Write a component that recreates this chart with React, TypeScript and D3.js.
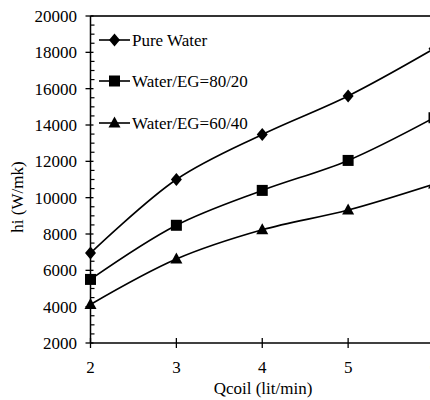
import React from "react";
import * as d3 from "d3";

const flows = [2, 3, 4, 5, 6];
const pureWater = [6950, 11000, 13480, 15600, 18200];
const eg8020 = [5500, 8480, 10400, 12050, 14400];
const eg6040 = [4120, 6620, 8230, 9320, 10750];
const yTicks = [2000, 4000, 6000, 8000, 10000, 12000, 14000, 16000, 18000, 20000];
const seriesNames = ["Pure Water", "Water/EG=80/20", "Water/EG=60/40"];
const markerKinds = ["diamond", "square", "triangle"];

const W = 430;
const H = 400;
const ts = { fontFamily: "Liberation Serif", fontSize: "17px" } as React.CSSProperties;

function Marker({ kind, x, y }: { kind: string; x: number; y: number }) {
  if (kind === "diamond") {
    return <path d={`M${x},${y - 6.5}L${x + 5.5},${y}L${x},${y + 6.5}L${x - 5.5},${y}Z`} fill="#000" />;
  }
  if (kind === "square") {
    return <rect x={x - 5.5} y={y - 5.5} width={11} height={11} fill="#000" />;
  }
  return <path d={`M${x},${y - 6.5}L${x + 6},${y + 4.5}L${x - 6},${y + 4.5}Z`} fill="#000" />;
}

export default function App() {
  const x = d3.scaleLinear().domain([2, 6]).range([90.5, 434]);
  const y = d3.scaleLinear().domain([2000, 20000]).range([343, 16]);
  const line = d3
    .line<number>()
    .x((_, i) => x(flows[i]))
    .y((d) => y(d))
    .curve(d3.curveCatmullRom.alpha(0.5));
  const allSeries = [pureWater, eg8020, eg6040];
  const minor = d3.range(2000, 20001, 500).filter((v) => v % 2000 !== 0);
  const legendY = [40, 81, 123];

  return (
    <svg
      width={W}
      height={H}
      style={{ position: "absolute", left: 0, top: 0, background: "#fff" }}
    >
      <rect width={W} height={H} fill="#fff" />
      <line x1={x(2)} x2={W} y1={y(20000)} y2={y(20000)} stroke="#333" strokeWidth={2} />
      <line x1={x(2)} x2={x(2)} y1={y(20000)} y2={y(2000)} stroke="#000" strokeWidth={1.5} />
      {yTicks.map((t) => (
        <g key={t}>
          <line x1={x(2) - 5} x2={x(2) + 3} y1={y(t)} y2={y(t)} stroke="#000" strokeWidth={1.3} />
          <text x={77} y={y(t)} dy="0.35em" textAnchor="end" style={ts}>
            {t}
          </text>
        </g>
      ))}
      {minor.map((t) => (
        <line key={t} x1={x(2)} x2={x(2) + 4} y1={y(t)} y2={y(t)} stroke="#000" strokeWidth={1.2} />
      ))}
      <line x1={x(2)} x2={W} y1={y(2000)} y2={y(2000)} stroke="#000" strokeWidth={1.5} />
      {flows.map((f) => (
        <g key={f}>
          <line x1={x(f)} x2={x(f)} y1={y(2000) - 5} y2={y(2000) + 5} stroke="#000" strokeWidth={1.3} />
          <text x={x(f)} y={373} textAnchor="middle" style={ts}>
            {f}
          </text>
        </g>
      ))}
      <text x={263} y={394} textAnchor="middle" style={ts}>
        Qcoil (lit/min)
      </text>
      <text transform={`translate(23,${197}) rotate(-90)`} textAnchor="middle" style={ts}>
        hi (W/mk)
      </text>
      {allSeries.map((s, si) => (
        <g key={si}>
          <path d={line(s) || ""} fill="none" stroke="#000" strokeWidth={1.6} />
          {s.map((v, i) => (
            <Marker key={i} kind={markerKinds[si]} x={x(flows[i])} y={y(v)} />
          ))}
        </g>
      ))}
      {seriesNames.map((n, i) => (
        <g key={n}>
          <line x1={99} x2={130} y1={legendY[i]} y2={legendY[i]} stroke="#000" strokeWidth={1.6} />
          <Marker kind={markerKinds[i]} x={114.5} y={legendY[i]} />
          <text x={132} y={legendY[i]} dy="0.35em" style={ts}>
            {n}
          </text>
        </g>
      ))}
    </svg>
  );
}
